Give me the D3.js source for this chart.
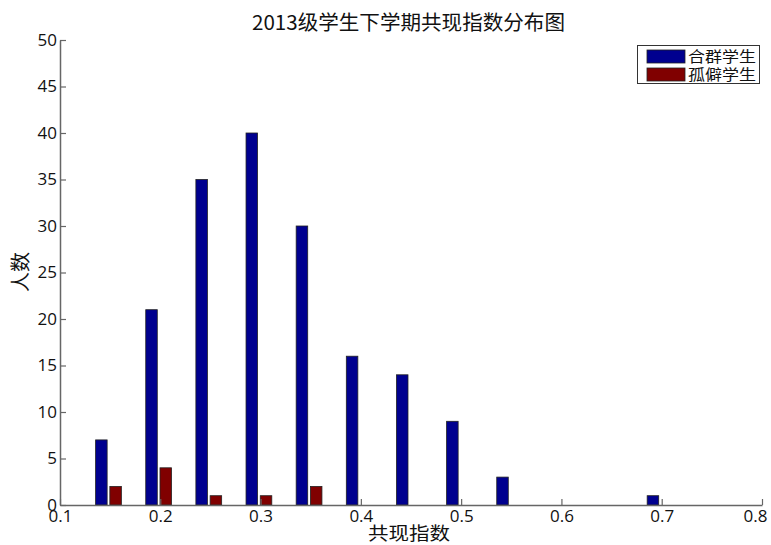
<!DOCTYPE html>
<html><head><meta charset="utf-8">
<script src="https://cdn.jsdelivr.net/npm/d3@7"></script>
<style>body{margin:0;background:#fff}svg{display:block}</style>
</head><body>
<svg id="c" width="771" height="545"></svg>
<script>
const categories = [0.15, 0.2, 0.25, 0.3, 0.35, 0.4, 0.45, 0.5, 0.55, 0.6, 0.7];
const groupA = [7, 21, 35, 40, 30, 16, 14, 9, 3, 0, 1];
const groupB = [2, 4, 1, 1, 2, 0, 0, 0, 0, 0, 0];
const seriesNames = ["合群学生", "孤僻学生"];
const xTicks = [0.1, 0.2, 0.3, 0.4, 0.5, 0.6, 0.7, 0.8];
const yTicks = [0, 5, 10, 15, 20, 25, 30, 35, 40, 45, 50];
const colors = ["#00008f", "#800000"];

const svg = d3.select("#c");
const L = 60, R = 762, T = 40, B = 505;
const x = d3.scaleLinear().domain([0.1, 0.8]).range([L, R]);
const y = d3.scaleLinear().domain([0, 50]).range([B, T]);
const bw = 0.0115;
const offs = [-0.0145, -0.0003];

[groupA, groupB].forEach((vals, si) => {
  svg.append("g").selectAll("rect").data(categories.map((c, i) => ({c, v: vals[i]})).filter(d => d.v > 0))
    .join("rect")
    .attr("x", d => x(d.c + offs[si]))
    .attr("width", x(0.1 + bw) - x(0.1))
    .attr("y", d => y(d.v))
    .attr("height", d => y(0) - y(d.v))
    .attr("fill", colors[si])
    .attr("stroke", "#222")
    .attr("stroke-width", 0.8);
});

const font = "'Open Sans', 'Liberation Sans', sans-serif";
const gx = svg.append("g").attr("transform", `translate(0,${B})`)
  .call(d3.axisBottom(x).tickValues(xTicks).tickFormat(d3.format(".1f")).tickSizeInner(-6).tickSizeOuter(0).tickPadding(8));
const gy = svg.append("g").attr("transform", `translate(${L},0)`)
  .call(d3.axisLeft(y).tickValues(yTicks).tickFormat(d3.format("d")).tickSizeInner(-6).tickSizeOuter(0).tickPadding(3));
[gx, gy].forEach(g => {
  g.select(".domain").attr("stroke", "#666").attr("stroke-width", 1.5);
  g.selectAll(".tick line").attr("stroke", "#666").attr("stroke-width", 1.2);
  g.selectAll(".tick text").attr("fill", "#111").style("font-family", font).style("font-size", "17px");
});
gx.selectAll(".tick text").attr("dy", "0.55em");
gx.selectAll(".tick text").filter(d => d === 0.8).attr("text-anchor", "end").attr("x", 5);
gy.selectAll(".tick text").attr("dy", "0.3em");

const cjk = "'Noto Sans CJK SC', sans-serif";
svg.append("text").attr("x", 252).attr("y", 30)
  .attr("textLength", 313).attr("lengthAdjust", "spacingAndGlyphs")
  .style("font-family", cjk).style("font-size", "20px").attr("fill", "#111")
  .text("2013级学生下学期共现指数分布图");
svg.append("text").attr("x", 368).attr("y", 540)
  .attr("textLength", 82).attr("lengthAdjust", "spacingAndGlyphs")
  .style("font-family", cjk).style("font-size", "18px").attr("fill", "#111")
  .text("共现指数");
svg.append("text").attr("transform", "translate(28,272) rotate(-90)")
  .attr("text-anchor", "middle")
  .style("font-family", cjk).style("font-size", "20px").attr("fill", "#111")
  .text("人数");

const lg = svg.append("g");
lg.append("rect").attr("x", 637.5).attr("y", 45.5).attr("width", 122).attr("height", 38)
  .attr("fill", "#fff").attr("stroke", "#333").attr("stroke-width", 1);
seriesNames.forEach((n, i) => {
  lg.append("rect").attr("x", 647).attr("y", 50 + i * 18).attr("width", 38).attr("height", 13)
    .attr("fill", colors[i]).attr("stroke", "#222").attr("stroke-width", 0.8);
  lg.append("text").attr("x", 688).attr("y", 62 + i * 18)
    .attr("textLength", 68).attr("lengthAdjust", "spacingAndGlyphs")
    .style("font-family", cjk).style("font-size", "15px").attr("fill", "#111").text(n);
});
</script>
</body></html>
